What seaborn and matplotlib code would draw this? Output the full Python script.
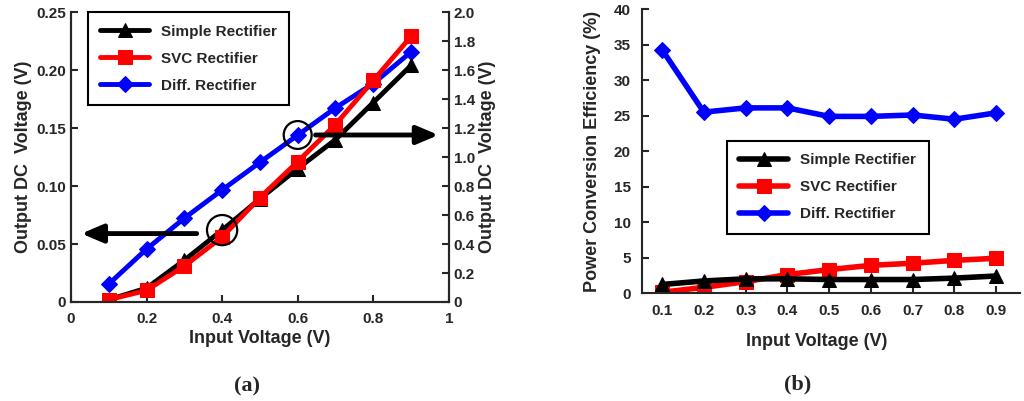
import numpy as np
import pandas as pd
import matplotlib
matplotlib.use("Agg")
import matplotlib.pyplot as plt
import seaborn as sns
from matplotlib.patches import Ellipse

sns.set_style("ticks")
plt.rcParams['font.family'] = ['Liberation Sans', 'DejaVu Sans']
plt.rcParams['font.weight'] = 'bold'
plt.rcParams['axes.labelweight'] = 'bold'

# ---------------------
# Data
# ---------------------
vin = [0.1, 0.2, 0.3, 0.4, 0.5, 0.6, 0.7, 0.8, 0.9]

# (a) output DC voltage
simple_vout = [0.002, 0.012, 0.036, 0.062, 0.089, 0.115, 0.140, 0.172, 0.204]
svc_vout = [0.002, 0.010, 0.031, 0.056, 0.090, 0.121, 0.153, 0.191, 0.229]
diff_vout = [0.124, 0.365, 0.578, 0.773, 0.963, 1.151, 1.339, 1.507, 1.725]  # right axis

# (b) power conversion efficiency (%)
simple_pce = [1.2, 1.7, 2.0, 2.0, 1.9, 1.9, 1.9, 2.1, 2.4]
svc_pce = [0.1, 0.8, 1.6, 2.6, 3.3, 3.9, 4.2, 4.6, 4.9]
diff_pce = [34.3, 25.5, 26.1, 26.1, 24.9, 24.9, 25.1, 24.5, 25.4]

labels = ["Simple Rectifier", "SVC Rectifier", "Diff. Rectifier"]
colors = ["black", "red", "blue"]
markers = ["^", "s", "D"]
msizes = [10, 10, 8]

fig = plt.figure(figsize=(10.24, 4.01), dpi=100)
ax1 = fig.add_axes([0.0693, 0.2469, 0.369, 0.7230])
ax1r = ax1.twinx()
ax2 = fig.add_axes([0.627, 0.2693, 0.369, 0.7075])

# ---------------------
# Panel (a)
# ---------------------
handles = []
for ax, vals, lab, c, m, ms in zip([ax1, ax1, ax1r], [simple_vout, svc_vout, diff_vout],
                                    labels, colors, markers, msizes):
    sns.lineplot(x=vin, y=vals, ax=ax, color=c, marker=m, markersize=ms,
                 markeredgecolor=c, linewidth=3.5, label=lab, legend=False)
    handles.append(ax.get_lines()[-1])

# keep red/black above the blue line
ax1.set_zorder(ax1r.get_zorder() + 1)
ax1.patch.set_visible(False)

ax1.set_xlim(0, 1)
ax1.set_ylim(0, 0.25)
ax1r.set_ylim(0, 2.0)
ax1.set_xticks([0, 0.2, 0.4, 0.6, 0.8, 1])
ax1.set_xticklabels(["0", "0.2", "0.4", "0.6", "0.8", "1"])
ax1.set_yticks([0, 0.05, 0.10, 0.15, 0.20, 0.25])
ax1.set_yticklabels(["0", "0.05", "0.10", "0.15", "0.20", "0.25"])
ax1r.set_yticks(np.arange(0, 2.01, 0.2))
ax1r.set_yticklabels(["0"] + ["%.1f" % v for v in np.arange(0.2, 2.01, 0.2)])
ax1.set_xlabel("Input Voltage (V)", fontsize=13, labelpad=3)
ax1.set_ylabel("Output DC  Voltage (V)", fontsize=13, labelpad=3)
ax1r.set_ylabel("Output DC  Voltage (V)", fontsize=13, labelpad=3)
for a in [ax1, ax1r]:
    a.tick_params(direction="in", length=5, width=1.5, labelsize=11)
    for s in a.spines.values():
        s.set_linewidth(1.5)
    a.spines["top"].set_visible(False)
ax1.tick_params(axis="x", pad=7)

ax1.add_patch(Ellipse((0.4, 0.062), width=0.08, height=0.026, fill=False, lw=1.6,
                      color="black", zorder=10))
ax1.add_patch(Ellipse((0.6, 0.144), width=0.074, height=0.024, fill=False, lw=1.6,
                      color="black", zorder=10))
ax1.annotate("", xy=(0.02, 0.059), xytext=(0.34, 0.059),
             arrowprops=dict(arrowstyle="-|>,head_length=1.3,head_width=0.55",
                             color="black", lw=3.5), zorder=10)
ax1.annotate("", xy=(0.98, 0.144), xytext=(0.64, 0.144),
             arrowprops=dict(arrowstyle="-|>,head_length=1.3,head_width=0.55",
                             color="black", lw=3.5), zorder=10)

leg1 = ax1.legend(handles, labels, loc="upper left", bbox_to_anchor=(0.025, 1.025),
                  fancybox=False, edgecolor="black", framealpha=1, fontsize=11,
                  handlelength=3.2, borderpad=0.8, labelspacing=0.85)
leg1.get_frame().set_linewidth(1.5)

# ---------------------
# Panel (b)
# ---------------------
for vals, lab, c, m, ms in zip([diff_pce, svc_pce, simple_pce], labels[::-1], colors[::-1],
                               markers[::-1], msizes[::-1]):
    sns.lineplot(x=vin, y=vals, ax=ax2, color=c, marker=m, markersize=ms,
                 markeredgecolor=c, linewidth=4, label=lab, legend=False)
h2 = ax2.get_lines()[::-1]
ax2.set_xlim(0.052, 0.957)
ax2.set_ylim(0, 40)
ax2.set_xticks(vin)
ax2.set_yticks(range(0, 41, 5))
ax2.set_xlabel("Input Voltage (V)", fontsize=13)
ax2.xaxis.set_label_coords(0.463, -0.14)
ax2.set_ylabel("Power Conversion Efficiency (%)", fontsize=13, labelpad=9)
ax2.tick_params(direction="in", length=5, width=1.5, labelsize=11, pad=8)
sns.despine(ax=ax2)
for s in ax2.spines.values():
    s.set_linewidth(1.5)
leg2 = ax2.legend(h2, labels, loc="upper left", bbox_to_anchor=(0.205, 0.562),
                  fancybox=False, edgecolor="black", framealpha=1, fontsize=11,
                  handlelength=3.2, borderpad=0.8, labelspacing=0.85)
leg2.get_frame().set_linewidth(1.5)

fig.text(0.241, 0.035, "(a)", fontsize=16, family="Liberation Serif", weight="bold",
         ha="center", va="center")
fig.text(0.779, 0.04, "(b)", fontsize=16, family="Liberation Serif", weight="bold",
         ha="center", va="center")

fig.savefig("out.png", dpi=100)
